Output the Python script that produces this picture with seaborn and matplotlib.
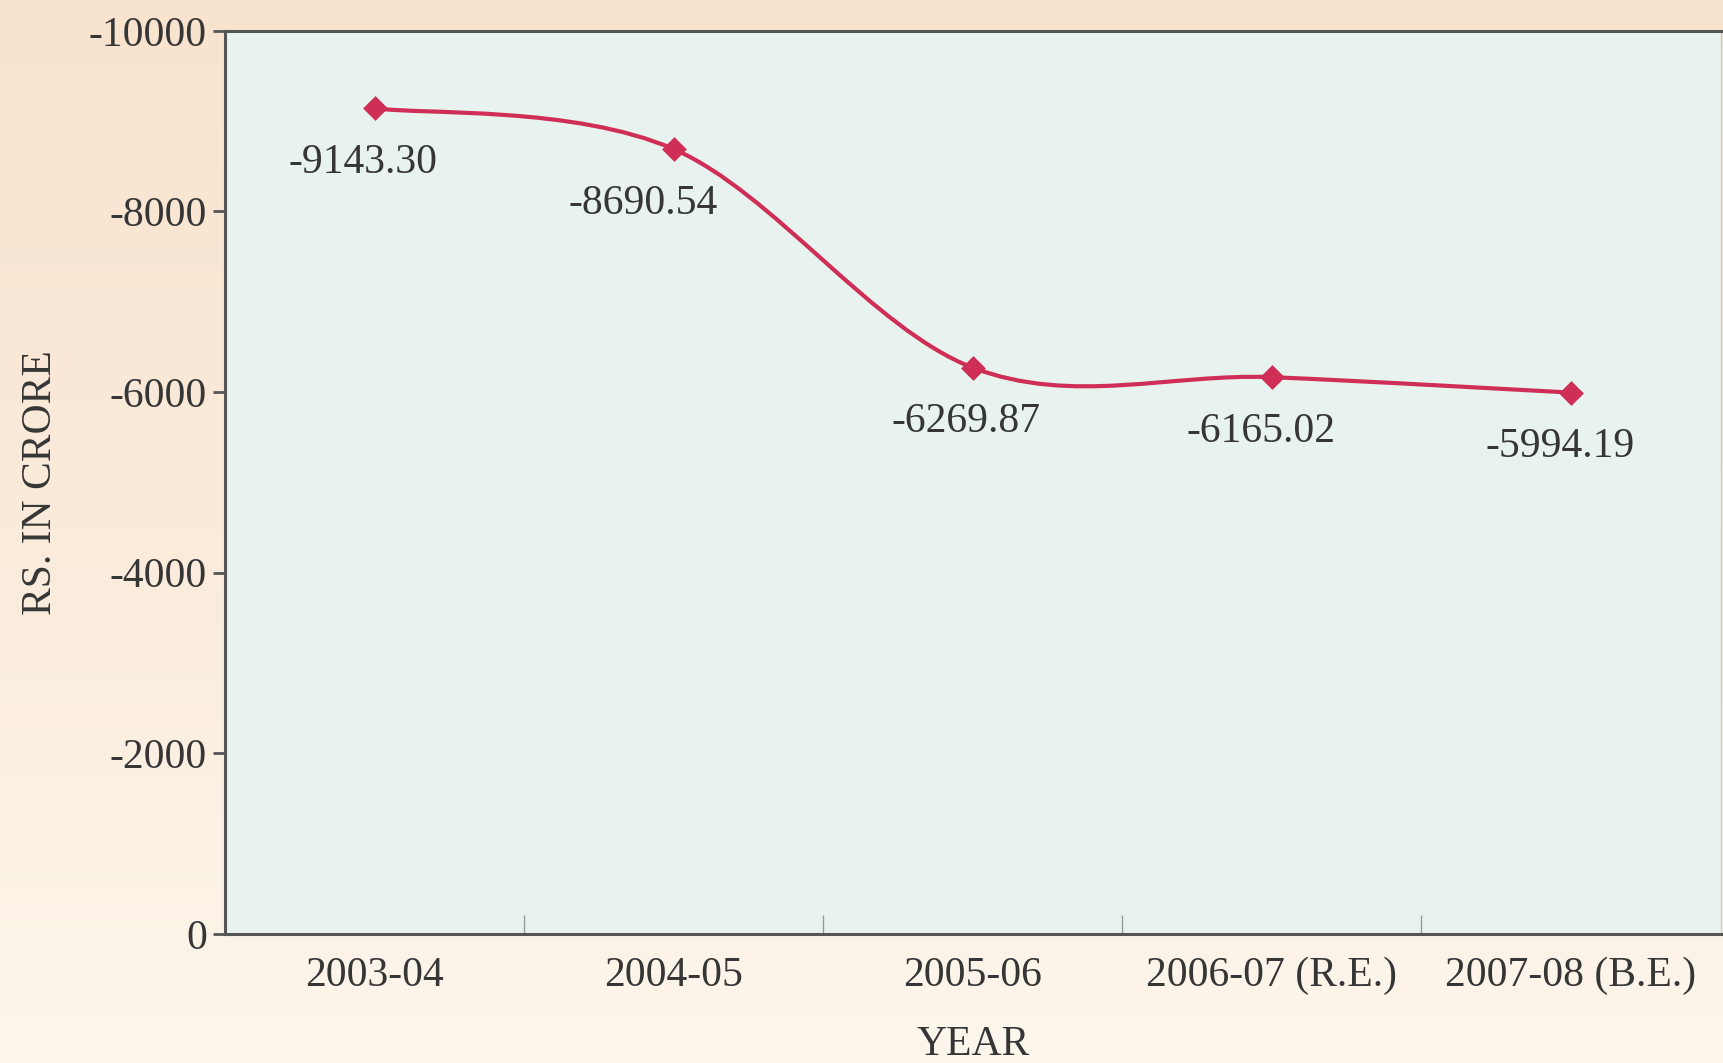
import matplotlib.pyplot as plt
import seaborn as sns
import numpy as np
import pandas as pd
from matplotlib.path import Path
from matplotlib.patches import PathPatch
from matplotlib.colors import LinearSegmentedColormap

# Dados do gráfico
anos = ["2003-04", "2004-05", "2005-06", "2006-07 (R.E.)", "2007-08 (B.E.)"]
valores = [-9143.30, -8690.54, -6269.87, -6165.02, -5994.19]
yticks = [-10000, -8000, -6000, -4000, -2000, 0]
rotulo_dx = [-8, -22, -5, -8, -8]

cor_linha = "#CF2F57"
cor_texto = "#363636"

df = pd.DataFrame({"ano": anos, "valor": valores, "pos": np.arange(len(anos))})

sns.set_style("ticks")
plt.rcParams["font.family"] = ["Liberation Serif", "DejaVu Serif"]

fig = plt.figure(figsize=(17.23, 10.63), dpi=100)

# Fundo em degradê (pêssego em cima, mais claro embaixo)
fundo = fig.add_axes([0, 0, 1, 1], zorder=-10)
grad = np.linspace(0, 1, 256).reshape(-1, 1)
cmap_fundo = LinearSegmentedColormap.from_list("fundo", ["#F8E3CE", "#FAEBDB", "#FDF6EC"])
fundo.imshow(grad, aspect="auto", cmap=cmap_fundo, extent=[0, 1, 0, 1], origin="upper")
fundo.axis("off")

ax = fig.add_axes([0.1306, 0.1214, 0.868, 0.8496])
ax.set_facecolor("#E8F3EF")

# Curva suavizada (Catmull-Rom -> Bezier) passando pelos pontos
x = df["pos"].to_numpy(dtype=float)
y = df["valor"].to_numpy(dtype=float)
px = np.concatenate([[x[0]], x, [x[-1]]])
py = np.concatenate([[y[0]], y, [y[-1]]])
verts = [(x[0], y[0])]
codes = [Path.MOVETO]
for i in range(1, len(x)):
    c1 = (px[i] + (px[i + 1] - px[i - 1]) / 6, py[i] + (py[i + 1] - py[i - 1]) / 6)
    c2 = (px[i + 1] - (px[i + 2] - px[i]) / 6, py[i + 1] - (py[i + 2] - py[i]) / 6)
    verts += [c1, c2, (px[i + 1], py[i + 1])]
    codes += [Path.CURVE4] * 3
ax.add_patch(PathPatch(Path(verts, codes), facecolor="none", edgecolor=cor_linha, lw=3, zorder=2))

sns.scatterplot(data=df, x="pos", y="valor", marker="D", s=160, color=cor_linha,
                edgecolor=cor_linha, linewidth=0, ax=ax, zorder=3)

for xi, yi, dx in zip(x, y, rotulo_dx):
    ax.annotate(f"{yi:.2f}", (xi, yi), xytext=(dx, -39), textcoords="offset points",
                ha="center", va="center", fontsize=30, color=cor_texto)

ax.set_xlim(-0.5, len(anos) - 0.5)
ax.set_ylim(0, -10000)
ax.set_yticks(yticks)
ax.set_yticklabels([str(t) for t in yticks])
ax.set_xticks(df["pos"])
ax.set_xticklabels(anos)
ax.set_xticks(np.arange(0.5, len(anos) - 0.5), minor=True)

ax.tick_params(axis="y", direction="out", length=9, width=2, color="#555555",
               labelsize=30, labelcolor=cor_texto, pad=4)
ax.tick_params(axis="x", which="major", length=0, labelsize=30, labelcolor=cor_texto, pad=16)
ax.tick_params(axis="x", which="minor", direction="in", length=14, width=1, color="#999999")

for lado in ["left", "bottom", "top"]:
    ax.spines[lado].set_color("#555555")
    ax.spines[lado].set_linewidth(2.2)
ax.spines["right"].set_color("#C8CFCC")
ax.spines["right"].set_linewidth(1)

ax.set_xlabel("YEAR", fontsize=30, color=cor_texto, labelpad=22)
ax.set_ylabel("RS. IN CRORE", fontsize=30, color=cor_texto, labelpad=21)

fig.savefig("out.png", dpi=100)
